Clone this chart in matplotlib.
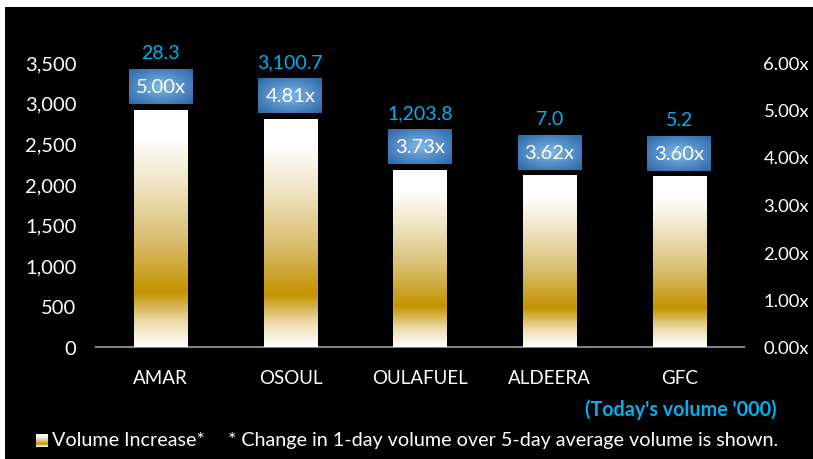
import numpy as np
import matplotlib.pyplot as plt
from matplotlib.colors import LinearSegmentedColormap
from matplotlib.patches import Rectangle
from matplotlib.offsetbox import OffsetImage, AnnotationBbox

plt.rcParams['font.family'] = ['Lato', 'DejaVu Sans']

# data
names = ['AMAR', 'OSOUL', 'OULAFUEL', 'ALDEERA', 'GFC']
ratios = [5.00, 4.81, 3.73, 3.62, 3.60]
volumes = [28.3, 3100.7, 1203.8, 7.0, 5.2]
left_ticks = [0, 500, 1000, 1500, 2000, 2500, 3000, 3500]
right_ticks = [0, 1, 2, 3, 4, 5, 6]

cyan = '#00B0F0'
fs = 14.5

# gold gradient (bottom -> top)
gold = LinearSegmentedColormap.from_list('gold', [
    (0.0, '#FFFFFF'), (0.10, '#EEDDB0'), (0.23, '#C39300'),
    (0.45, '#D9BE70'), (0.70, '#F1E6C8'), (0.88, '#FFFFFF'), (1.0, '#FFFFFF')])

fig = plt.figure(figsize=(8.13, 4.6), dpi=100, facecolor='white')
fig.patches.append(Rectangle((5 / 813, 0), 808 / 813, 452 / 460, transform=fig.transFigure,
                             facecolor='black', edgecolor='none', zorder=-10))

ax = fig.add_axes([96 / 813, 112 / 460, 648 / 813, 285 / 460])
ax.set_facecolor('none')
ax2 = ax.twinx()
ax2.set_facecolor('none')

x = np.arange(len(names))
ax.set_xlim(-0.5, len(names) - 0.5)
ax.set_ylim(0, 3500)
ax2.set_ylim(0, 6)

bars = ax2.bar(x, ratios, width=0.41, color='none', edgecolor='none')
grad = np.linspace(0, 1, 256).reshape(-1, 1)
for b in bars:
    x0, w, h = b.get_x(), b.get_width(), b.get_height()
    im = ax2.imshow(grad, cmap=gold, origin='lower', aspect='auto',
                    extent=[x0, x0 + w, 0, h], zorder=2)
    im.set_clip_path(b)
ax2.set_xlim(-0.5, len(names) - 0.5)
ax2.set_ylim(0, 6)

# blue radial box image
yy, xx = np.mgrid[-1:1:35j, -1:1:64j]
r = np.sqrt(xx ** 2 + yy ** 2) / np.sqrt(2)
c_in = np.array([0.50, 0.72, 0.90])
c_out = np.array([0.17, 0.40, 0.66])
box = c_in[None, None, :] * (1 - r[..., None]) + c_out[None, None, :] * r[..., None]

for xi, rt, vol in zip(x, ratios, volumes):
    ab = AnnotationBbox(OffsetImage(box, zoom=1, dpi_cor=False), (xi, rt),
                        xybox=(0, 16.5), boxcoords='offset points', frameon=False,
                        pad=0, zorder=4)
    ax2.add_artist(ab)
    ax2.annotate(f'{rt:.2f}x', (xi, rt), xytext=(0, 16.5), textcoords='offset points',
                 ha='center', va='center', color='white', fontsize=fs, zorder=5)
    ax2.annotate(f'{vol:,.1f}', (xi, rt), xytext=(0, 41), textcoords='offset points',
                 ha='center', va='center', color=cyan, fontsize=14, zorder=5)

# axes styling
for a in (ax, ax2):
    for s in a.spines.values():
        s.set_visible(False)
ax.spines['bottom'].set_visible(True)
ax.spines['bottom'].set_color('#808080')
ax.spines['bottom'].set_linewidth(1.5)

ax.set_yticks(left_ticks)
ax.set_yticklabels([f'{v:,}' for v in left_ticks])
ax2.set_yticks(right_ticks)
ax2.set_yticklabels([f'{v:.2f}x' for v in right_ticks])
ax.set_xticks(x)
ax.set_xticklabels(names)
ax.tick_params(axis='y', length=0, pad=14, colors='white', labelsize=fs)
ax2.tick_params(axis='y', length=0, pad=14, colors='white', labelsize=13.3)
ax.tick_params(axis='x', length=0, pad=16, colors='white', labelsize=13.5)

# footer
fig.text(777 / 813, 1 - 410 / 460, "(Today's volume '000)", ha='right', va='center',
         color=cyan, fontsize=14.2, fontweight='bold')
lg = fig.add_axes([36 / 813, 1 - 448 / 460, 12 / 813, 13 / 460])
lg.imshow(grad, cmap=gold, origin='lower', aspect='auto')
lg.axis('off')
fig.text(52 / 813, 1 - 441 / 460, 'Volume Increase*', ha='left', va='center',
         color='white', fontsize=14.2)
fig.text(228 / 813, 1 - 441 / 460, '* Change in 1-day volume over 5-day average volume is shown.',
         ha='left', va='center', color='white', fontsize=14.2)

fig.savefig('out.png', dpi=100, facecolor=fig.get_facecolor())
